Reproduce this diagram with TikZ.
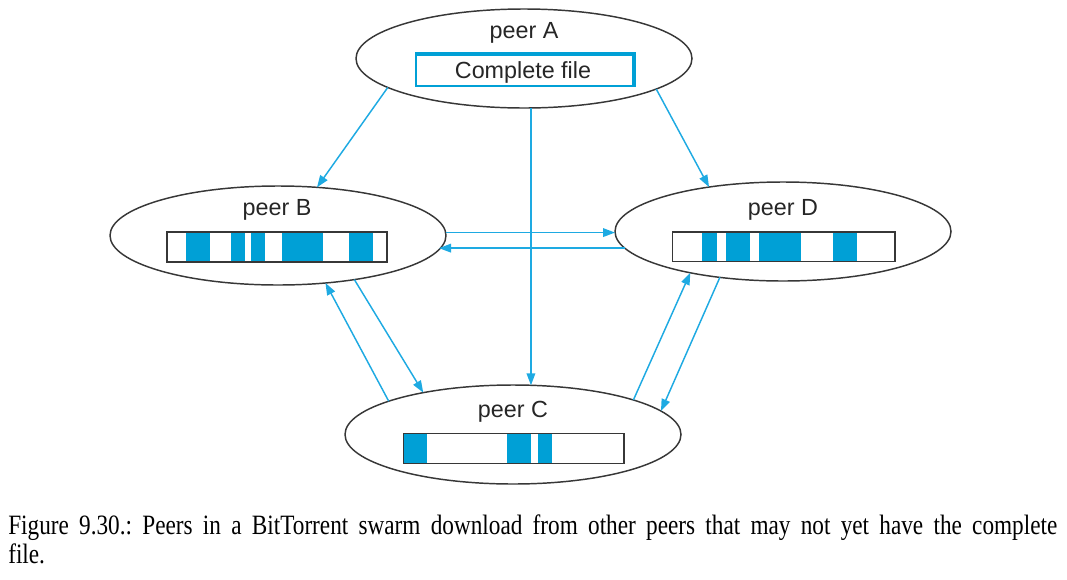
\documentclass[tikz,border=0pt]{standalone}
\usepackage{fontspec}
\setmainfont{Liberation Serif}
\newfontfamily\diagfont{Liberation Sans}
\usetikzlibrary{shapes.geometric,arrows.meta}
\definecolor{segblue}{RGB}{0,160,214}
\definecolor{arrblue}{RGB}{30,170,226}
\definecolor{outline}{RGB}{55,55,55}
\tikzset{
  peer/.style={ellipse, draw=outline, line width=1.1pt, minimum width=252pt, minimum height=74.25pt, inner sep=0pt, outer sep=0pt},
  peerlabel/.style={font=\diagfont\fontsize{17.5}{20}\selectfont, text=black!85, inner sep=0pt},
  flow/.style={draw=arrblue, line width=1.1pt, -{Triangle[length=9pt,width=6.5pt]}},
  barline/.style={draw=outline, line width=1.1pt},
  seg/.style={fill=segblue},
  caption/.style={font=\fontsize{21}{25}\selectfont\frenchspacing, inner sep=0pt, anchor=base west}
}
\begin{document}
\begin{tikzpicture}[x=0.75pt,y=-0.75pt]
\useasboundingbox (0,0) rectangle (1067,579);
% peers
\node[peer] (A) at (524,58.5) {};
\node[peer] (B) at (278,235.5) {};
\node[peer] (D) at (783,231.5) {};
\node[peer] (C) at (513,434.5) {};
% labels
\node[peerlabel] (la) at (524,33) {peer A};
\node[peerlabel] (lb) at (277,209.5) {peer B};
\node[peerlabel] (ld) at (783,209.5) {peer D};
\node[peerlabel] (lc) at (513,412) {peer C};
% complete file
\fill[segblue] (415,52) rectangle (636,87);
\fill[white] (417,55.5) rectangle (632,85);
\node[peerlabel] (file) at (523,72) {Complete file};
% bar B
\foreach \a/\b in {186/210, 231/245, 251/265, 281.7/322.7, 349.3/373.3}
  \fill[seg] (\a,232) rectangle (\b,262);
\draw[barline] (167,232) rectangle (387,262);
% bar D
\foreach \a/\b in {702.3/716.7, 726/750, 759/800.7, 832.7/857.3}
  \fill[seg] (\a,232) rectangle (\b,261.5);
\draw[barline] (672.3,232) rectangle (895,261.5);
% bar C
\foreach \a/\b in {403.3/426.7, 506.7/530.7, 538.3/552.3}
  \fill[seg] (\a,433.5) rectangle (\b,463.3);
\draw[barline] (403.3,433.5) rectangle (624,463.3);
% connectors
\draw[flow] (A.192.5) -- (B.51.6);
\draw[flow] (A.347.8) -- (D.149);
\draw[flow] (A.278) -- (A.278 |- C.70);
\draw[flow] (B.1.89) -- (B.1.89 -| D.west);
\draw[flow] (D.186.2) -- (D.186.2 -| B.355.6);
\draw[flow] (C.165.1) -- (B.315.9);
\draw[flow] (B.330.3) -- (C.155.7);
\draw[flow] (C.16.1) -- (D.204.6);
\draw[flow] (D.216.9) -- (C.9.8);
% caption
\node[caption] (cap1) at (8,534) {\scalebox{0.83}[1]{\makebox[947.9pt][s]{Figure 9.30.: Peers in a BitTorrent swarm download from other peers that may not yet have the complete}}};
\node[caption] (cap2) at (8,563) {\scalebox{0.83}[1]{file.}};
\end{tikzpicture}
\end{document}
